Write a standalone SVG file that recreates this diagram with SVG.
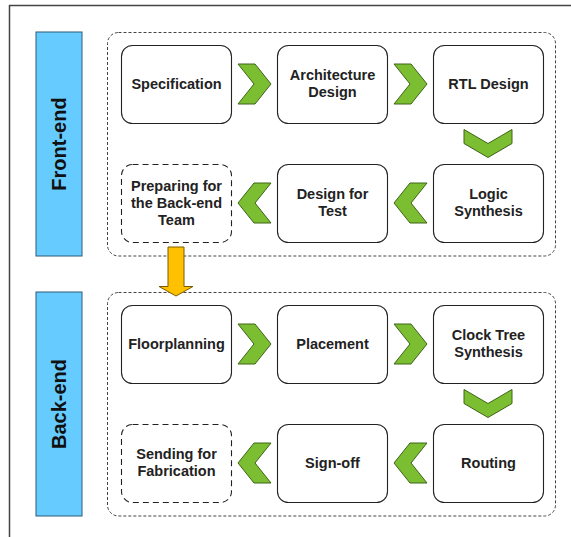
<svg xmlns="http://www.w3.org/2000/svg" width="571" height="537" viewBox="0 0 571 537">
<style>
.frame{stroke:#444;stroke-width:1.5;fill:none}
.bar{fill:#66CCFF;stroke:#2F5A78;stroke-width:1}
.bar-t{font-family:"Liberation Sans",Arial,sans-serif;font-weight:bold;font-size:20px;fill:#111;text-anchor:middle}
.cont{fill:none;stroke:#444;stroke-width:1;stroke-dasharray:3 2}
.node{fill:#fff;stroke:#222;stroke-width:1.1}
.dnode{fill:#fff;stroke:#222;stroke-width:1.1;stroke-dasharray:6 4}
.t{font-family:"Liberation Sans",Arial,sans-serif;font-weight:bold;font-size:14.5px;fill:#222;text-anchor:middle}
.chev{fill:#7BBE31;stroke:#3F6418;stroke-width:1}
.yarrow{fill:#FFC000;stroke:#7A5C00;stroke-width:1}
</style>
<rect width="571" height="537" fill="#fff"/>
<g id="frame">
<line class="frame" x1="9.5" y1="5" x2="9.5" y2="537"/>
<line class="frame" x1="9" y1="5.5" x2="571" y2="5.5"/>
</g>
<g id="front-end-label">
<rect class="bar" x="36" y="32" width="46" height="224"/>
<text class="bar-t" transform="translate(66 144) rotate(-90)">Front-end</text>
</g>
<g id="back-end-label">
<rect class="bar" x="36" y="292" width="46" height="224"/>
<text class="bar-t" transform="translate(66 404) rotate(-90)">Back-end</text>
</g>
<g id="front-end-group"><rect class="cont" x="107.5" y="32.5" width="448" height="223.5" rx="11"/></g>
<g id="back-end-group"><rect class="cont" x="107.5" y="292.5" width="448" height="223.5" rx="11"/></g>

<g id="specification"><rect class="node" x="121.5" y="45.5" width="110" height="78" rx="11"/><text class="t" x="176.5" y="89">Specification</text></g>
<g id="architecture-design"><rect class="node" x="277.5" y="45.5" width="110" height="78" rx="11"/><text class="t" x="332.5" y="80">Architecture</text><text class="t" x="332.5" y="97">Design</text></g>
<g id="rtl-design"><rect class="node" x="433.5" y="45.5" width="110" height="78" rx="11"/><text class="t" x="488.5" y="89">RTL Design</text></g>
<g id="logic-synthesis"><rect class="node" x="433.5" y="164.5" width="110" height="78" rx="11"/><text class="t" x="488.5" y="199">Logic</text><text class="t" x="488.5" y="216">Synthesis</text></g>
<g id="design-for-test"><rect class="node" x="277.5" y="164.5" width="110" height="78" rx="11"/><text class="t" x="332.5" y="199">Design for</text><text class="t" x="332.5" y="216">Test</text></g>
<g id="preparing"><rect class="dnode" x="121.5" y="164.5" width="110" height="78" rx="11"/><text class="t" x="176.5" y="191">Preparing for</text><text class="t" x="176.5" y="208">the Back-end</text><text class="t" x="176.5" y="225">Team</text></g>

<g id="floorplanning"><rect class="node" x="121.5" y="305.5" width="110" height="78" rx="11"/><text class="t" x="176.5" y="349">Floorplanning</text></g>
<g id="placement"><rect class="node" x="277.5" y="305.5" width="110" height="78" rx="11"/><text class="t" x="332.5" y="349">Placement</text></g>
<g id="clock-tree-synthesis"><rect class="node" x="433.5" y="305.5" width="110" height="78" rx="11"/><text class="t" x="488.5" y="340">Clock Tree</text><text class="t" x="488.5" y="357">Synthesis</text></g>
<g id="routing"><rect class="node" x="433.5" y="424.5" width="110" height="78" rx="11"/><text class="t" x="488.5" y="468">Routing</text></g>
<g id="sign-off"><rect class="node" x="277.5" y="424.5" width="110" height="78" rx="11"/><text class="t" x="332.5" y="468">Sign-off</text></g>
<g id="sending-for-fabrication"><rect class="dnode" x="121.5" y="424.5" width="110" height="78" rx="11"/><text class="t" x="176.5" y="459">Sending for</text><text class="t" x="176.5" y="476">Fabrication</text></g>

<g id="connectors">
<polygon class="chev" points="238,64 255,64 271,84 255,104 238,104 254,84"/>
<polygon class="chev" points="394,64 411,64 427,84 411,104 394,104 410,84"/>
<polygon class="chev" points="464,129.5 488,143.5 512,129.5 512,143.5 488,157.5 464,143.5"/>
<polygon class="chev" points="427,183 410,183 394,203 410,223 427,223 411,203"/>
<polygon class="chev" points="271,183 254,183 238,203 254,223 271,223 255,203"/>
<polygon class="yarrow" points="168,247 184,247 184,286.5 193,286.5 176,296 159,286.5 168,286.5"/>
<polygon class="chev" points="238,324 255,324 271,344 255,364 238,364 254,344"/>
<polygon class="chev" points="394,324 411,324 427,344 411,364 394,364 410,344"/>
<polygon class="chev" points="464,389.5 488,403.5 512,389.5 512,403.5 488,417.5 464,403.5"/>
<polygon class="chev" points="427,443 410,443 394,463 410,483 427,483 411,463"/>
<polygon class="chev" points="271,443 254,443 238,463 254,483 271,483 255,463"/>
</g>
</svg>
